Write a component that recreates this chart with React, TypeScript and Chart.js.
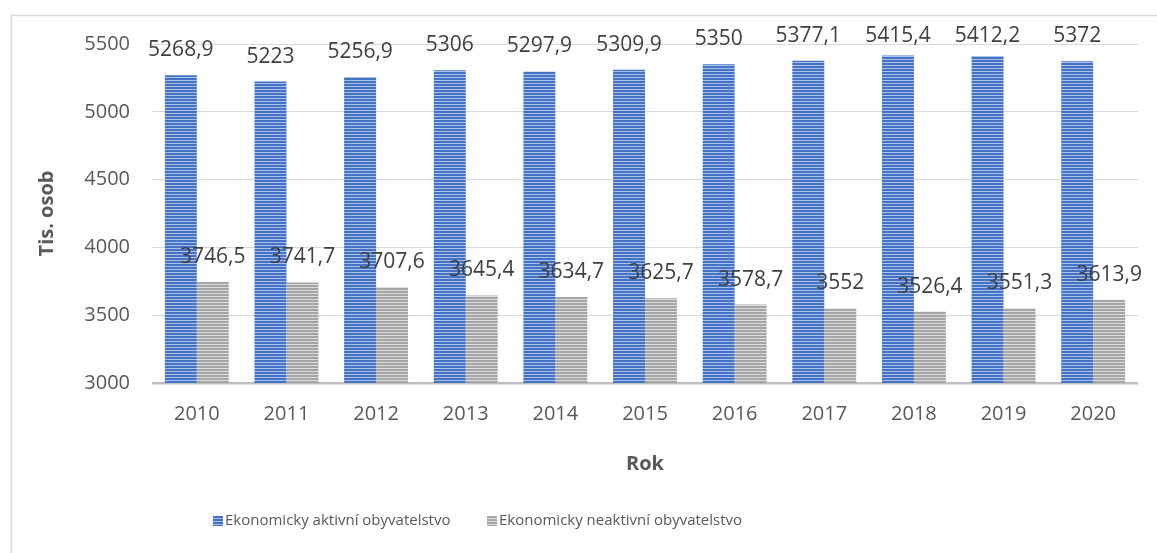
import React, { useEffect, useRef } from 'react';
import { Chart, registerables } from 'chart.js';

Chart.register(...registerables);

const categories = ['2010', '2011', '2012', '2013', '2014', '2015', '2016', '2017', '2018', '2019', '2020'];
const activeValues = [5268.9, 5223, 5256.9, 5306, 5297.9, 5309.9, 5350, 5377.1, 5415.4, 5412.2, 5372];
const inactiveValues = [3746.5, 3741.7, 3707.6, 3645.4, 3634.7, 3625.7, 3578.7, 3552, 3526.4, 3551.3, 3613.9];
const yTicks = [3000, 3500, 4000, 4500, 5000, 5500];
const seriesNames = ['Ekonomicky aktivní obyvatelstvo', 'Ekonomicky neaktivní obyvatelstvo'];
const xTitle = 'Rok';
const yTitle = 'Tis. osob';

const FONT = "'Open Sans', sans-serif";

function stripe(base: string, light: string): CanvasPattern | string {
  const c = document.createElement('canvas');
  c.width = 4;
  c.height = 3;
  const g = c.getContext('2d');
  if (!g) return base;
  g.fillStyle = base;
  g.fillRect(0, 0, 4, 3);
  g.fillStyle = light;
  g.fillRect(0, 2, 4, 1);
  return g.createPattern(c, 'repeat') || base;
}

export default function App() {
  const ref = useRef<HTMLCanvasElement | null>(null);

  useEffect(() => {
    if (!ref.current) return;
    const bluePat = stripe('#4472c4', '#a9bfe9');
    const grayPat = stripe('#a5a5a5', '#dcdcdc');
    const fills = [bluePat, grayPat];

    const labelPlugin = {
      id: 'valueLabels',
      afterDatasetsDraw(chart: any) {
        const ctx = chart.ctx;
        ctx.save();
        ctx.font = `21px ${FONT}`;
        ctx.fillStyle = '#404040';
        ctx.textAlign = 'center';
        ctx.textBaseline = 'middle';
        chart.data.datasets.forEach((ds: any, i: number) => {
          const meta = chart.getDatasetMeta(i);
          meta.data.forEach((el: any, j: number) => {
            const v = ds.data[j];
            ctx.fillText(String(v).replace('.', ','), el.x, Math.max(el.y - 25, 36));
          });
        });
        ctx.restore();
      },
    };

    const framePlugin = {
      id: 'frameLegend',
      afterDraw(chart: any) {
        const ctx = chart.ctx;
        ctx.save();
        ctx.strokeStyle = '#d9d9d9';
        ctx.lineWidth = 1.5;
        ctx.beginPath();
        ctx.moveTo(11.5, 553);
        ctx.lineTo(11.5, 15.5);
        ctx.lineTo(1157, 15.5);
        ctx.stroke();
        const xs = [213, 487];
        ctx.font = `15px ${FONT}`;
        ctx.textBaseline = 'middle';
        ctx.textAlign = 'left';
        seriesNames.forEach((name, i) => {
          ctx.fillStyle = fills[i] as any;
          ctx.fillRect(xs[i], 516, 10, 10);
          ctx.fillStyle = '#595959';
          ctx.fillText(name, xs[i] + 12, 521);
        });
        ctx.restore();
      },
    };

    const chart = new Chart(ref.current, {
      type: 'bar',
      data: {
        labels: categories,
        datasets: [
          {
            label: seriesNames[0],
            data: activeValues,
            backgroundColor: bluePat as any,
            borderWidth: 0,
            categoryPercentage: 0.713,
            barPercentage: 1,
          },
          {
            label: seriesNames[1],
            data: inactiveValues,
            backgroundColor: grayPat as any,
            borderWidth: 0,
            categoryPercentage: 0.713,
            barPercentage: 1,
          },
        ],
      },
      options: {
        responsive: false,
        animation: false,
        layout: { padding: { left: 0, top: 44, right: 19, bottom: 0 } },
        plugins: {
          legend: { display: false },
          tooltip: { enabled: false },
        },
        scales: {
          x: {
            grid: { display: false, drawTicks: false },
            border: { display: false },
            ticks: { color: '#595959', font: { family: FONT, size: 20 }, padding: 19 },
            title: {
              display: true,
              text: xTitle,
              color: '#595959',
              font: { family: FONT, size: 20, weight: 'bold' },
              padding: { top: 0, bottom: 77 },
            },
            afterFit(scale: any) {
              scale.height = 170;
            },
          },
          y: {
            min: 3000,
            max: 5500,
            afterBuildTicks(scale: any) {
              scale.ticks = yTicks.map((v) => ({ value: v }));
            },
            grid: {
              drawTicks: false,
              color: (c: any) => (c.tick && c.tick.value === 3000 ? '#bfbfbf' : '#d9d9d9'),
              lineWidth: (c: any) => (c.tick && c.tick.value === 3000 ? 2.5 : 1),
            },
            border: { display: false },
            ticks: {
              color: '#595959',
              font: { family: FONT, size: 20 },
              padding: 22,
              callback: (v: any) => String(v),
            },
            title: {
              display: true,
              text: yTitle,
              color: '#595959',
              font: { family: FONT, size: 20, weight: 'bold' },
              padding: { top: 35, bottom: 0 },
            },
            afterFit(scale: any) {
              scale.width = 152;
            },
          },
        },
      },
      plugins: [labelPlugin, framePlugin],
    });

    return () => chart.destroy();
  }, []);

  return (
    <div style={{ position: 'fixed', left: 0, top: 0, width: 1157, height: 553, background: '#fff' }}>
      <canvas ref={ref} width={1157} height={553} />
    </div>
  );
}
